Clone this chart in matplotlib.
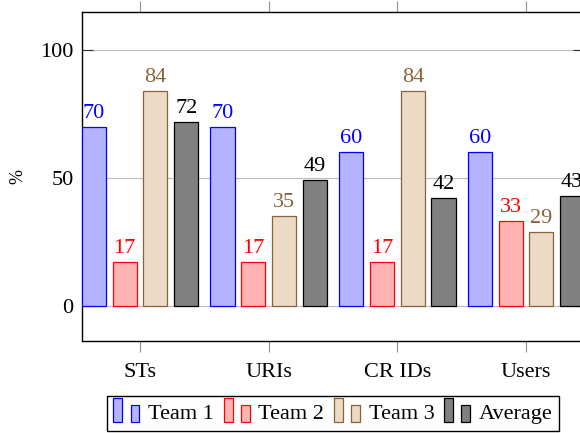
import matplotlib
matplotlib.use("Agg")
import matplotlib.pyplot as plt
from matplotlib.patches import Rectangle
from matplotlib.legend_handler import HandlerBase

categories = ["STs", "URIs", "CR IDs", "Users"]
team1 = [70, 70, 60, 60]
team2 = [17, 17, 17, 33]
team3 = [84, 35, 84, 29]
average = [72, 49, 42, 43]
series_names = ["Team 1", "Team 2", "Team 3", "Average"]

plt.rcParams['font.family'] = ['Liberation Serif', 'DejaVu Serif']

# fill, edge, label colour for each series
fills = [(0.7, 0.7, 1.0), (1.0, 0.7, 0.7), (0.925, 0.85, 0.775), (0.5, 0.5, 0.5)]
edges = ["blue", "red", "#8b6238", "black"]
label_colors = ["blue", "red", "#8b6238", "black"]


class TwoBars(HandlerBase):
    # pgfplots-style ybar legend image: two small bars
    def create_artists(self, legend, orig_handle, xdescent, ydescent,
                       width, height, fontsize, trans):
        w = width * 0.33
        x0, y0 = -xdescent, -ydescent - 0.15 * height
        h = height * 1.4
        r1 = Rectangle((x0, y0), w, h, facecolor=orig_handle.get_facecolor(),
                       edgecolor=orig_handle.get_edgecolor(), lw=0.9, transform=trans)
        r2 = Rectangle((x0 + width * 0.64, y0), w, h * 0.74,
                       facecolor=orig_handle.get_facecolor(),
                       edgecolor=orig_handle.get_edgecolor(), lw=0.9, transform=trans)
        return [r1, r2]


fig = plt.figure(figsize=(5.8, 4.33), dpi=100)
ax = fig.add_axes([82 / 580, 1 - 341 / 433, 502 / 580, 329 / 433])

x = range(len(categories))
width = 0.187
offsets = [-0.359, -0.12, 0.12, 0.359]
handles = []
for vals, off, fc, ec, lc in zip([team1, team2, team3, average], offsets, fills, edges, label_colors):
    pos = [i + off for i in x]
    bars = ax.bar(pos, vals, width, color=fc, edgecolor=ec, linewidth=0.9, zorder=3)
    handles.append(bars[0])
    for px, v in zip(pos, vals):
        ax.annotate(str(v), (px, v), xytext=(0, 6.5), textcoords="offset points",
                    ha="center", va="baseline", color=lc, fontsize=16)

ax.set_xlim(-0.451, 3.451)
ax.set_ylim(-13.7, 114.8)
ax.set_yticks([0, 50, 100])
ax.set_xticks(list(x))
ax.set_xticklabels(categories)
ax.yaxis.grid(True, color="#c0c0c0", linewidth=0.9, zorder=0)
ax.set_axisbelow(True)
ax.tick_params(axis="x", direction="out", top=True, length=8, color="#909090",
               labelsize=16, pad=8)
ax.tick_params(axis="y", direction="in", right=True, length=8, color="#303030",
               labelsize=16, pad=6)
for s in ax.spines.values():
    s.set_linewidth(1.0)
ax.set_ylabel("%", fontsize=13, labelpad=10)

fig.legend(handles, series_names, handler_map={h: TwoBars() for h in handles},
           loc="upper center", bbox_to_anchor=(333 / 580, 1 - 396 / 433), ncol=4,
           fontsize=16, frameon=True, fancybox=False, edgecolor="black",
           framealpha=1, handlelength=1.2, handleheight=0.8, handletextpad=0.35,
           columnspacing=0.45, borderpad=0.3, borderaxespad=0)

fig.savefig("out.png", dpi=100)
